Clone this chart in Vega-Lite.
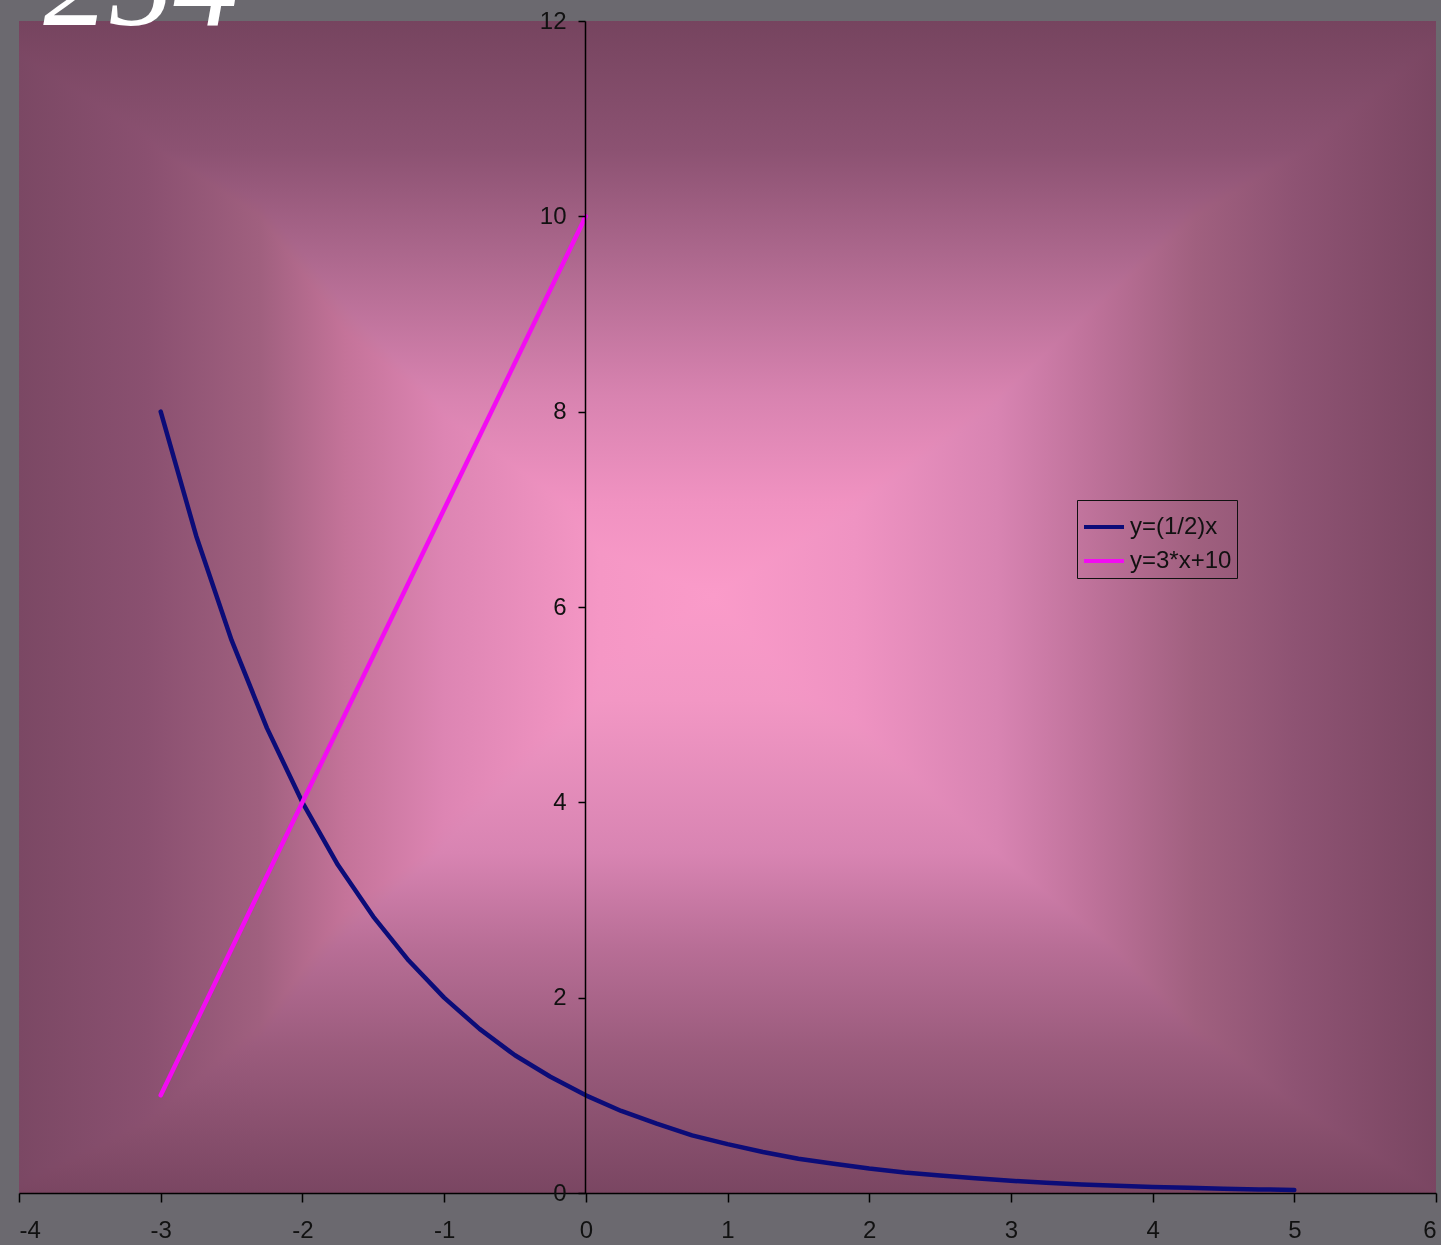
{
  "$schema": "https://vega.github.io/schema/vega-lite/v6.json",
  "width": 1417,
  "height": 1172,
  "autosize": {"type": "none"},
  "padding": {"left": 19, "top": 21, "right": 5, "bottom": 52},
  "background": "#6b696f",
  "datasets": {
    "curves": [
      {"x": -3, "y": 8, "s": "y=(1/2)x"},
      {"x": -2.75, "y": 6.73, "s": "y=(1/2)x"},
      {"x": -2.5, "y": 5.66, "s": "y=(1/2)x"},
      {"x": -2.25, "y": 4.76, "s": "y=(1/2)x"},
      {"x": -2, "y": 4, "s": "y=(1/2)x"},
      {"x": -1.75, "y": 3.36, "s": "y=(1/2)x"},
      {"x": -1.5, "y": 2.83, "s": "y=(1/2)x"},
      {"x": -1.25, "y": 2.38, "s": "y=(1/2)x"},
      {"x": -1, "y": 2, "s": "y=(1/2)x"},
      {"x": -0.75, "y": 1.68, "s": "y=(1/2)x"},
      {"x": -0.5, "y": 1.41, "s": "y=(1/2)x"},
      {"x": -0.25, "y": 1.19, "s": "y=(1/2)x"},
      {"x": 0, "y": 1, "s": "y=(1/2)x"},
      {"x": 0.25, "y": 0.84, "s": "y=(1/2)x"},
      {"x": 0.5, "y": 0.71, "s": "y=(1/2)x"},
      {"x": 0.75, "y": 0.59, "s": "y=(1/2)x"},
      {"x": 1, "y": 0.5, "s": "y=(1/2)x"},
      {"x": 1.25, "y": 0.42, "s": "y=(1/2)x"},
      {"x": 1.5, "y": 0.35, "s": "y=(1/2)x"},
      {"x": 1.75, "y": 0.3, "s": "y=(1/2)x"},
      {"x": 2, "y": 0.25, "s": "y=(1/2)x"},
      {"x": 2.25, "y": 0.21, "s": "y=(1/2)x"},
      {"x": 2.5, "y": 0.18, "s": "y=(1/2)x"},
      {"x": 2.75, "y": 0.15, "s": "y=(1/2)x"},
      {"x": 3, "y": 0.125, "s": "y=(1/2)x"},
      {"x": 3.25, "y": 0.105, "s": "y=(1/2)x"},
      {"x": 3.5, "y": 0.088, "s": "y=(1/2)x"},
      {"x": 3.75, "y": 0.074, "s": "y=(1/2)x"},
      {"x": 4, "y": 0.0625, "s": "y=(1/2)x"},
      {"x": 4.25, "y": 0.053, "s": "y=(1/2)x"},
      {"x": 4.5, "y": 0.044, "s": "y=(1/2)x"},
      {"x": 4.75, "y": 0.037, "s": "y=(1/2)x"},
      {"x": 5, "y": 0.031, "s": "y=(1/2)x"},
      {"x": -3, "y": 1, "s": "y=3*x+10"},
      {"x": -2, "y": 4, "s": "y=3*x+10"},
      {"x": -1, "y": 7, "s": "y=3*x+10"},
      {"x": 0, "y": 10, "s": "y=3*x+10"}
    ]
  },
  "layer": [
    {
      "data": {"values": [{"k": 1}]},
      "mark": {
        "type": "rect",
        "fill": {
          "gradient": "linear", "x1": 0, "y1": 0, "x2": 1, "y2": 0,
          "stops": [
            {"offset": 0, "color": "#7b4864"},
            {"offset": 0.09, "color": "#8a5070"},
            {"offset": 0.17, "color": "#a0607f"},
            {"offset": 0.23, "color": "#c47399"},
            {"offset": 0.3, "color": "#dd85b3"},
            {"offset": 0.41, "color": "#f597c5"},
            {"offset": 0.49, "color": "#fa9bc9"},
            {"offset": 0.59, "color": "#ef93c2"},
            {"offset": 0.69, "color": "#d884b2"},
            {"offset": 0.76, "color": "#bd7199"},
            {"offset": 0.83, "color": "#a0607f"},
            {"offset": 0.9, "color": "#8e5373"},
            {"offset": 1, "color": "#7a4662"}
          ]
        }
      },
      "encoding": {
        "x": {"datum": -4, "type": "quantitative", "scale": {"domain": [-4, 6], "nice": false, "zero": false}, "axis": {"title": null, "zindex": 1}},
        "x2": {"datum": 6},
        "y": {"datum": 0, "type": "quantitative", "scale": {"domain": [0, 12], "nice": false}, "axis": {"title": null, "zindex": 1}},
        "y2": {"datum": 12}
      }
    },
    {
      "data": {"values": [{"k": 1}]},
      "mark": {
        "type": "rect",
        "blend": "darken",
        "fill": {
          "gradient": "linear", "x1": 0, "y1": 0, "x2": 0, "y2": 1,
          "stops": [
            {"offset": 0, "color": "#76445f"},
            {"offset": 0.11, "color": "#8c5272"},
            {"offset": 0.21, "color": "#b06a90"},
            {"offset": 0.32, "color": "#d883b0"},
            {"offset": 0.41, "color": "#f092c1"},
            {"offset": 0.49, "color": "#fa9bc9"},
            {"offset": 0.58, "color": "#f297c4"},
            {"offset": 0.71, "color": "#d884b2"},
            {"offset": 0.79, "color": "#b86e96"},
            {"offset": 0.88, "color": "#9a5b7c"},
            {"offset": 1, "color": "#7a4662"}
          ]
        }
      },
      "encoding": {
        "x": {"datum": -4, "type": "quantitative", "axis": {"title": null, "zindex": 1}},
        "x2": {"datum": 6},
        "y": {"datum": 0, "type": "quantitative", "axis": {"title": null, "zindex": 1}},
        "y2": {"datum": 12}
      }
    },
    {
      "data": {"name": "curves"},
      "mark": {"type": "line", "strokeWidth": 4.5, "strokeCap": "round", "strokeJoin": "round"},
      "encoding": {
        "x": {"field": "x", "type": "quantitative", "axis": {"title": null, "zindex": 1, "values": [-4, -3, -2, -1, 0, 1, 2, 3, 4, 5, 6], "labelExpr": "datum.value + ''"}},
        "y": {"field": "y", "type": "quantitative", "axis": {"title": null, "zindex": 1, "values": [0, 2, 4, 6, 8, 10, 12], "labelExpr": "datum.value + ''"}},
        "color": {
          "field": "s", "type": "nominal",
          "scale": {"domain": ["y=(1/2)x", "y=3*x+10"], "range": ["#0c0c78", "#f20cf2"]},
          "legend": {
            "title": null, "orient": "none", "legendX": 1058, "legendY": 479,
            "symbolType": "stroke", "symbolSize": 1600, "symbolStrokeWidth": 4,
            "labelFont": "Liberation Sans", "labelFontSize": 24, "labelColor": "#111111",
            "labelOffset": 4, "strokeColor": "#111111", "padding": 5, "rowPadding": 0
          }
        }
      }
    },
    {
      "data": {"values": [{"t": "-254"}]},
      "mark": {"type": "text", "align": "left", "baseline": "alphabetic", "dx": -19, "dy": 4, "font": "Liberation Serif", "fontStyle": "italic", "fontSize": 130, "color": "#ffffff"},
      "encoding": {
        "x": {"datum": -4, "type": "quantitative"},
        "y": {"datum": 12, "type": "quantitative"},
        "text": {"field": "t"}
      }
    }
  ],
  "config": {
    "view": {"stroke": null},
    "axis": {"grid": false, "domainColor": "#000000", "domainWidth": 1.5, "tickColor": "#000000", "tickWidth": 1.5, "labelColor": "#111111", "labelFont": "Liberation Sans", "labelFontSize": 24},
    "axisX": {"tickSize": 9, "labelPadding": 16},
    "axisY": {"offset": -566, "tickSize": 7, "labelPadding": 12}
  }
}
